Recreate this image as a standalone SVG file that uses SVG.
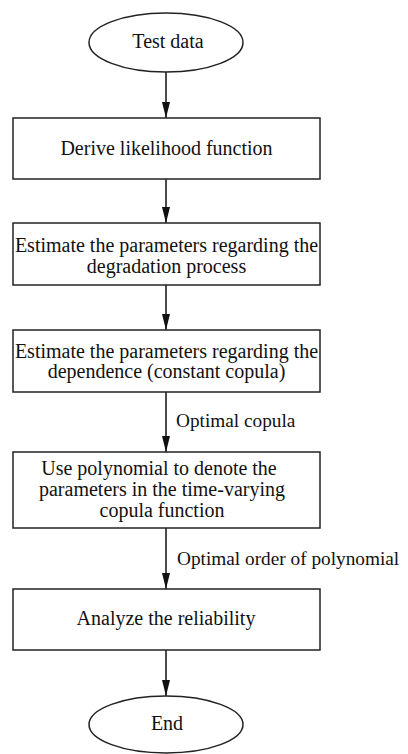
<svg xmlns="http://www.w3.org/2000/svg" width="408" height="754" viewBox="0 0 408 754">
<defs>
<marker id="ah" markerWidth="16" markerHeight="8" refX="16" refY="4" orient="auto" markerUnits="userSpaceOnUse" viewBox="0 0 16 8">
<path d="M0,0 L16,4 L0,8 Z" fill="#111"/>
</marker>
<style>
.n{fill:#fff;stroke:#222;stroke-width:1.5}
.t{font-family:"Liberation Serif","Times New Roman",serif;font-size:20px;fill:#111;text-anchor:middle}
.l{font-family:"Liberation Serif","Times New Roman",serif;font-size:19.3px;fill:#111}
.c{stroke:#111;stroke-width:1.5;fill:none}
</style>
</defs>
<rect width="408" height="754" fill="#fff"/>
<g id="connectors">
<line class="c" x1="166" y1="72" x2="166" y2="118" marker-end="url(#ah)"/>
<line class="c" x1="166" y1="179" x2="166" y2="223" marker-end="url(#ah)"/>
<line class="c" x1="166" y1="285" x2="166" y2="330" marker-end="url(#ah)"/>
<line class="c" x1="166" y1="392" x2="166" y2="452" marker-end="url(#ah)"/>
<text class="l" x="176" y="427">Optimal copula</text>
<line class="c" x1="166" y1="528" x2="166" y2="589" marker-end="url(#ah)"/>
<text class="l" x="177" y="565">Optimal order of polynomial</text>
<line class="c" x1="166" y1="650" x2="166" y2="696" marker-end="url(#ah)"/>
</g>
<g id="start">
<ellipse class="n" cx="166" cy="42.5" rx="77" ry="29.5"/>
<text class="t" x="168" y="48">Test data</text>
</g>
<g id="derive">
<rect class="n" x="13" y="118" width="307" height="61"/>
<text class="t" x="166.5" y="155">Derive likelihood function</text>
</g>
<g id="estimate-degradation">
<rect class="n" x="13" y="223" width="307" height="62"/>
<text class="t" x="166.5" y="252">Estimate the parameters regarding the</text>
<text class="t" x="166.5" y="272.5">degradation process</text>
</g>
<g id="estimate-dependence">
<rect class="n" x="13" y="330" width="307" height="62"/>
<text class="t" x="166.5" y="358">Estimate the parameters regarding the</text>
<text class="t" x="166.5" y="378">dependence (constant copula)</text>
</g>
<g id="polynomial">
<rect class="n" x="13" y="452" width="307" height="76"/>
<text class="t" x="159" y="475">Use polynomial to denote the</text>
<text class="t" x="162" y="496">parameters in the time-varying</text>
<text class="t" x="162" y="517">copula function</text>
</g>
<g id="analyze">
<rect class="n" x="13" y="589" width="307" height="61"/>
<text class="t" x="166" y="625">Analyze the reliability</text>
</g>
<g id="end">
<ellipse class="n" cx="166" cy="724.5" rx="77" ry="28.5"/>
<text class="t" x="167" y="730">End</text>
</g>
</svg>
